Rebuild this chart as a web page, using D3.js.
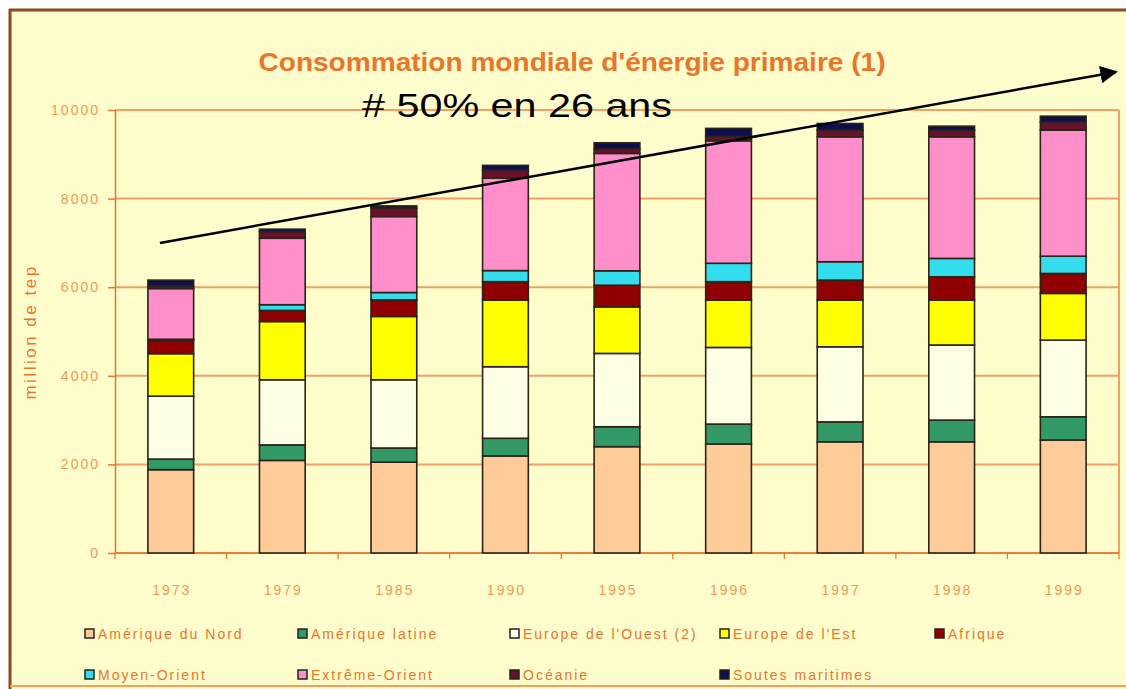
<!DOCTYPE html>
<html>
<head>
<meta charset="utf-8">
<script src="https://cdn.jsdelivr.net/npm/d3@7"></script>
<style>
  body { margin: 0; background: #fff; }
  svg { display: block; }
</style>
</head>
<body>
<div id="chart"></div>
<script>
// years on the x axis
var years = ["1973", "1979", "1985", "1990", "1995", "1996", "1997", "1998", "1999"];

// regions, bottom to top of each stack
var regions = ["Amérique du Nord", "Amérique latine", "Europe de l'Ouest (2)", "Europe de l'Est", "Afrique",
               "Moyen-Orient", "Extrême-Orient", "Océanie", "Soutes maritimes"];

// million de tep
var nord     = [1880, 2090, 2050, 2190, 2400, 2460, 2510, 2510, 2550];
var latine   = [240, 350, 320, 400, 450, 450, 450, 490, 525];
var ouest    = [1420, 1470, 1540, 1615, 1655, 1730, 1695, 1695, 1730];
var est      = [960, 1315, 1430, 1505, 1050, 1070, 1055, 1015, 1055];
var afrique  = [300, 250, 375, 415, 490, 415, 450, 525, 450];
var moyen    = [25, 130, 165, 250, 325, 415, 415, 415, 390];
var extreme  = [1145, 1500, 1715, 2085, 2650, 2765, 2820, 2745, 2845];
var oceanie  = [60, 150, 190, 190, 100, 100, 150, 150, 185];
var soutes   = [130, 55, 50, 100, 140, 180, 150, 90, 130];

var yTicks = [0, 2000, 4000, 6000, 8000, 10000];

var series = [nord, latine, ouest, est, afrique, moyen, extreme, oceanie, soutes];
var colors = ["#FFCC99", "#339966", "#FFFFE6", "#FFFF00", "#900000",
              "#33DDEE", "#FF8FCB", "#6B0F2A", "#0D0D50"];

var W = 1126, H = 689;
var orange = "#E8762D", grid = "#F2A064";

var svg = d3.select("#chart").append("svg")
    .attr("width", W)
    .attr("height", H)
    .style("font-family", "'Liberation Sans', Arial, sans-serif");

// cream background + frame
svg.append("rect").attr("x", 10).attr("y", 10).attr("width", W).attr("height", H)
    .style("fill", "#FFFDCB");
svg.append("line").attr("x1", 9).attr("x2", W).attr("y1", 10).attr("y2", 10)
    .style("stroke", "#8B4A1F").style("stroke-width", 3);
svg.append("line").attr("x1", 10).attr("x2", 10).attr("y1", 9).attr("y2", H)
    .style("stroke", "#8B4A1F").style("stroke-width", 3);
svg.append("line").attr("x1", 10).attr("x2", W).attr("y1", 686).attr("y2", 686)
    .style("stroke", "#F0A060").style("stroke-width", 2);

var x = d3.scaleBand()
    .domain(years)
    .range([115, 1119])
    .paddingInner(0.59)
    .paddingOuter(0.295);

var y = d3.scaleLinear()
    .domain([0, 10000])
    .range([553, 110]);

// stacked data
var rows = years.map(function(yr, i) {
  var r = { year: yr };
  regions.forEach(function(reg, k) { r[reg] = series[k][i]; });
  return r;
});
var stack = d3.stack().keys(regions)(rows);

// gridlines
svg.append("g").selectAll("line")
    .data(yTicks)
    .enter().append("line")
    .attr("x1", 115).attr("x2", 1119)
    .attr("y1", function(d) { return y(d); })
    .attr("y2", function(d) { return y(d); })
    .style("stroke", grid)
    .style("stroke-width", 2);

// right border of plot
svg.append("line").attr("x1", 1119).attr("x2", 1119).attr("y1", y(10000)).attr("y2", y(0))
    .style("stroke", grid).style("stroke-width", 2);

// y axis
var yAxis = svg.append("g")
    .attr("transform", "translate(115,0)")
    .call(d3.axisLeft(y).tickValues(yTicks).tickFormat(d3.format("d"))
      .tickSize(7).tickPadding(8).tickSizeOuter(0));
yAxis.select(".domain").style("stroke", orange).style("stroke-width", 1.5);
yAxis.selectAll(".tick line").style("stroke", orange).style("stroke-width", 1.5).attr("x2", -7).attr("x1", 1);
yAxis.selectAll("text")
    .style("fill", "#EE9A55")
    .style("font-size", "14px")
    .style("letter-spacing", "2px")
    .style("font-family", "'Liberation Sans', Arial, sans-serif");

// x axis: ticks between the bands
var xAxis = svg.append("g").attr("transform", "translate(0," + y(0) + ")");
xAxis.append("line").attr("x1", 115).attr("x2", 1119)
    .style("stroke", orange).style("stroke-width", 1.5);
xAxis.selectAll(".xt")
    .data(d3.range(years.length + 1))
    .enter().append("line")
    .attr("class", "xt")
    .attr("x1", function(k) { return x.range()[0] + k * x.step(); })
    .attr("x2", function(k) { return x.range()[0] + k * x.step(); })
    .attr("y1", 0).attr("y2", 6)
    .style("stroke", orange).style("stroke-width", 1.2);
xAxis.selectAll(".xl")
    .data(years)
    .enter().append("text")
    .attr("class", "xl")
    .attr("x", function(d) { return x(d) + x.bandwidth() / 2 + 1; })
    .attr("y", 42)
    .attr("text-anchor", "middle")
    .text(function(d) { return d; })
    .style("fill", "#EE9A55")
    .style("font-size", "14px")
    .style("letter-spacing", "2px");

// bars
var layers = svg.append("g").selectAll("g")
    .data(stack)
    .enter().append("g")
    .style("fill", function(d, i) { return colors[i]; });

layers.selectAll("rect")
    .data(function(d) { return d; })
    .enter().append("rect")
    .attr("x", function(d) { return x(d.data.year); })
    .attr("width", x.bandwidth())
    .attr("y", function(d) { return y(d[1]); })
    .attr("height", function(d) { return y(d[0]) - y(d[1]); })
    .style("stroke", "#2A2418")
    .style("stroke-width", 1.6);

// y axis title
svg.append("text")
    .attr("transform", "translate(36,332) rotate(-90)")
    .attr("text-anchor", "middle")
    .text("million de tep")
    .style("fill", orange)
    .style("font-size", "17px")
    .style("letter-spacing", "2.5px");

// title
svg.append("text")
    .attr("x", 572)
    .attr("y", 71)
    .attr("text-anchor", "middle")
    .attr("textLength", 627)
    .attr("lengthAdjust", "spacingAndGlyphs")
    .text("Consommation mondiale d'énergie primaire (1)")
    .style("fill", orange)
    .style("font-size", "26px")
    .style("font-weight", "bold");

// trend arrow annotation
var defs = svg.append("defs");
defs.append("marker")
    .attr("id", "head")
    .attr("viewBox", "0 0 10 10")
    .attr("refX", 9).attr("refY", 5)
    .attr("markerWidth", 7).attr("markerHeight", 7)
    .attr("markerUnits", "strokeWidth")
    .attr("orient", "auto")
    .append("path")
    .attr("d", "M0,0 L10,5 L0,10 Z")
    .style("fill", "#000");

svg.append("line")
    .attr("x1", x("1973") + 12).attr("y1", y(7000))
    .attr("x2", x("1999") + x.bandwidth() + 30).attr("y2", y(10860))
    .style("stroke", "#000")
    .style("stroke-width", 2.5)
    .attr("marker-end", "url(#head)");

svg.append("text")
    .attr("x", 362)
    .attr("y", 117)
    .attr("textLength", 310)
    .attr("lengthAdjust", "spacingAndGlyphs")
    .text("# 50% en 26 ans")
    .style("fill", "#000")
    .style("font-size", "33px");

// legend
var legX = [85, 298, 510, 720, 935], legY = [634, 675];
var leg = svg.append("g").selectAll("g")
    .data(regions)
    .enter().append("g")
    .attr("transform", function(d, i) {
      return "translate(" + legX[i % 5] + "," + legY[Math.floor(i / 5)] + ")";
    });
leg.append("rect")
    .attr("x", 0).attr("y", -5)
    .attr("width", 9).attr("height", 9)
    .style("fill", function(d, i) { return colors[i]; })
    .style("stroke", "#222")
    .style("stroke-width", 1.5);
leg.append("text")
    .attr("x", 13).attr("y", 5)
    .text(function(d) { return d; })
    .style("fill", orange)
    .style("font-size", "14px")
    .style("letter-spacing", "2px");
</script>
</body>
</html>
